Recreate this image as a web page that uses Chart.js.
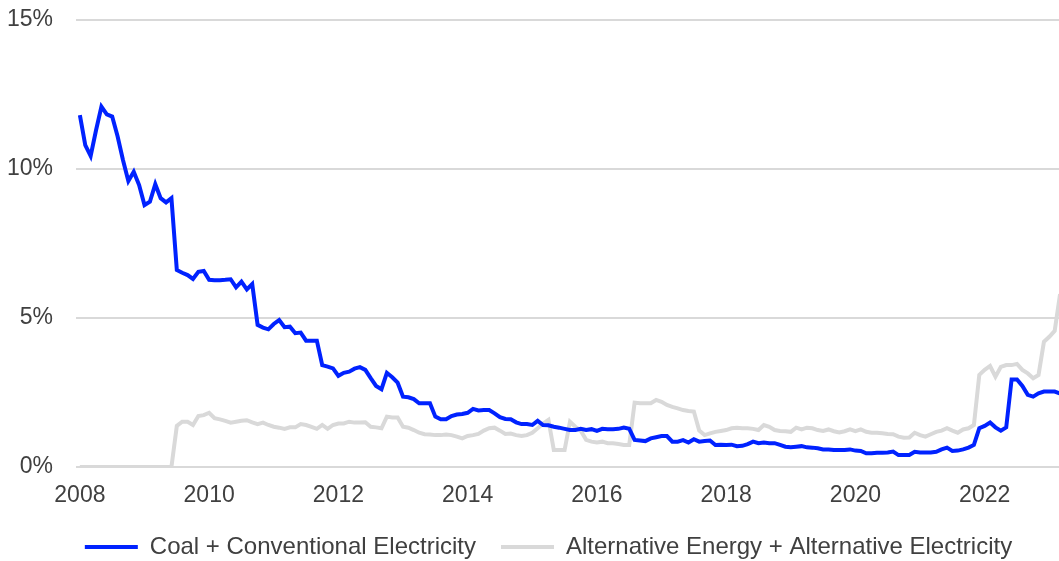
<!DOCTYPE html>
<html>
<head>
<meta charset="utf-8">
<script src="https://cdn.jsdelivr.net/npm/chart.js@4/dist/chart.umd.min.js"></script>
<style>
  html, body { margin: 0; padding: 0; background: #ffffff; }
  #box { width: 1059px; height: 561px; }
</style>
</head>
<body>
<div id="box"><canvas id="myChart"></canvas></div>
<script>
// monthly series, first value = January 2008
const startYear = 2008;
const yearTicks = [2008, 2010, 2012, 2014, 2016, 2018, 2020, 2022];
const percentTicks = [0, 5, 10, 15];

const coal = [
  11.81, 10.8, 10.44, 11.3, 12.09, 11.83, 11.76, 11.1, 10.3, 9.6, 9.91, 9.46,
  8.79, 8.9, 9.49, 9.02, 8.88, 9.02, 6.61, 6.52, 6.44, 6.31, 6.55, 6.58,
  6.28, 6.27, 6.27, 6.28, 6.3, 6.03, 6.22, 5.96, 6.14, 4.77, 4.68, 4.62,
  4.8, 4.93, 4.69, 4.71, 4.49, 4.51, 4.24, 4.24, 4.24, 3.42, 3.37, 3.31,
  3.06, 3.16, 3.2, 3.3, 3.35, 3.26, 2.98, 2.72, 2.61, 3.16, 3.01, 2.83,
  2.36, 2.34, 2.28, 2.14, 2.14, 2.14, 1.69, 1.6, 1.6, 1.71, 1.76, 1.78,
  1.82, 1.95, 1.9, 1.91, 1.91, 1.8, 1.67, 1.61, 1.6, 1.5, 1.44, 1.44,
  1.41, 1.55, 1.41, 1.4, 1.35, 1.32, 1.28, 1.24, 1.24, 1.28, 1.24, 1.27,
  1.21, 1.28, 1.27, 1.27, 1.28, 1.32, 1.28, 0.91, 0.89, 0.87, 0.96, 1.0,
  1.04, 1.04, 0.85, 0.85, 0.9, 0.82, 0.93, 0.85, 0.87, 0.89, 0.74, 0.75,
  0.74, 0.75, 0.7, 0.71, 0.77, 0.85, 0.8, 0.82, 0.8, 0.8, 0.74, 0.68,
  0.66, 0.68, 0.7, 0.66, 0.65, 0.63, 0.59, 0.59, 0.57, 0.57, 0.57, 0.59,
  0.55, 0.54, 0.46, 0.46, 0.48, 0.48, 0.49, 0.52, 0.4, 0.4, 0.4, 0.51,
  0.49, 0.49, 0.49, 0.51, 0.59, 0.65, 0.54, 0.55, 0.59, 0.65, 0.74, 1.3,
  1.38, 1.49, 1.33, 1.22, 1.33, 2.94, 2.94, 2.72, 2.42, 2.36, 2.47, 2.53,
  2.53, 2.53, 2.47
];

const alternative = [
  0, 0, 0, 0, 0, 0, 0, 0, 0, 0, 0, 0,
  0, 0, 0, 0, 0, 0, 1.38, 1.52, 1.52, 1.41, 1.71, 1.74,
  1.82, 1.64, 1.6, 1.55, 1.49, 1.52, 1.55, 1.57, 1.5, 1.44, 1.49, 1.41,
  1.35, 1.32, 1.28, 1.33, 1.33, 1.44, 1.41, 1.35, 1.28, 1.41, 1.28, 1.41,
  1.46, 1.46, 1.52, 1.49, 1.49, 1.5, 1.35, 1.33, 1.3, 1.69, 1.66, 1.66,
  1.35, 1.32, 1.24, 1.15, 1.1, 1.09, 1.07, 1.07, 1.09, 1.07, 1.02, 0.96,
  1.04, 1.07, 1.11, 1.22, 1.3, 1.32, 1.22, 1.11, 1.12, 1.07, 1.04, 1.07,
  1.15, 1.3, 1.46, 1.58, 0.57, 0.57, 0.57, 1.52, 1.35, 1.22, 0.91, 0.85,
  0.82, 0.85, 0.8, 0.8, 0.77, 0.74, 0.74, 2.16, 2.14, 2.14, 2.14, 2.25,
  2.19, 2.08, 2.02, 1.97, 1.91, 1.88, 1.86, 1.22, 1.07, 1.13, 1.18, 1.21,
  1.24, 1.3, 1.32, 1.3, 1.3, 1.28, 1.24, 1.41, 1.35, 1.24, 1.21, 1.2,
  1.18, 1.32, 1.26, 1.32, 1.3, 1.24, 1.21, 1.26, 1.2, 1.16, 1.2, 1.26,
  1.2, 1.26, 1.18, 1.15, 1.15, 1.13, 1.11, 1.1, 1.02, 0.98, 0.99, 1.15,
  1.07, 1.02, 1.1, 1.18, 1.22, 1.3, 1.22, 1.15, 1.26, 1.3, 1.41, 3.09,
  3.26, 3.39, 3.03, 3.36, 3.42, 3.42, 3.46, 3.26, 3.14, 2.98, 3.09, 4.2,
  4.37, 4.57, 5.8
];

function toPoints(arr) {
  return arr.map((v, i) => ({ x: startYear + i / 12, y: v }));
}

const ctx = document.getElementById("myChart");
const textColor = "#404040";
const fontName = "'Liberation Sans', Arial, sans-serif";

// legend sits a bit to the right of the canvas centre in the original
const legendNudge = {
  id: "legendNudge",
  beforeDraw(chart) {
    chart.legend.left = 38;
  },
};

new Chart(ctx, {
  type: "line",
  data: {
    datasets: [
      {
        label: "Coal + Conventional Electricity",
        data: toPoints(coal),
        borderColor: "#0022ff",
        backgroundColor: "#0022ff",
        borderWidth: 4,
        pointRadius: 0,
        tension: 0,
      },
      {
        label: "Alternative Energy + Alternative Electricity",
        data: toPoints(alternative),
        borderColor: "#d9d9d9",
        backgroundColor: "#d9d9d9",
        borderWidth: 4,
        pointRadius: 0,
        tension: 0,
      },
    ],
  },
  options: {
    responsive: true,
    maintainAspectRatio: false,
    animation: false,
    layout: {
      padding: { left: 8, right: 0, top: 20, bottom: -8 },
    },
    scales: {
      x: {
        type: "linear",
        min: 2007.94,
        max: 2023.15,
        grid: { display: false, drawTicks: false },
        border: { display: false },
        afterBuildTicks: (axis) => {
          axis.ticks = yearTicks.map((v) => ({ value: v }));
        },
        afterFit: (axis) => {
          axis.height = 43;
        },
        ticks: {
          color: textColor,
          font: { family: fontName, size: 23 },
          padding: 15,
          maxRotation: 0,
          autoSkip: false,
          callback: (v) => String(v),
        },
      },
      y: {
        min: 0,
        max: 15,
        afterBuildTicks: (axis) => {
          axis.ticks = percentTicks.map((v) => ({ value: v }));
        },
        afterFit: (axis) => {
          axis.width = 68;
          axis.paddingTop = 0;
          axis.paddingBottom = 0;
        },
        grid: { color: "#d9d9d9", lineWidth: 2, drawTicks: false },
        border: { display: false },
        ticks: {
          color: textColor,
          font: { family: fontName, size: 23 },
          padding: 23,
          callback: (v) => v + "%",
        },
      },
    },
    plugins: {
      legend: {
        position: "bottom",
        labels: {
          usePointStyle: true,
          pointStyle: "line",
          pointStyleWidth: 53,
          boxHeight: 4,
          color: textColor,
          font: { family: fontName, size: 24 },
          padding: 25,
        },
      },
      tooltip: { enabled: false },
    },
  },
  plugins: [legendNudge],
});
</script>
</body>
</html>
